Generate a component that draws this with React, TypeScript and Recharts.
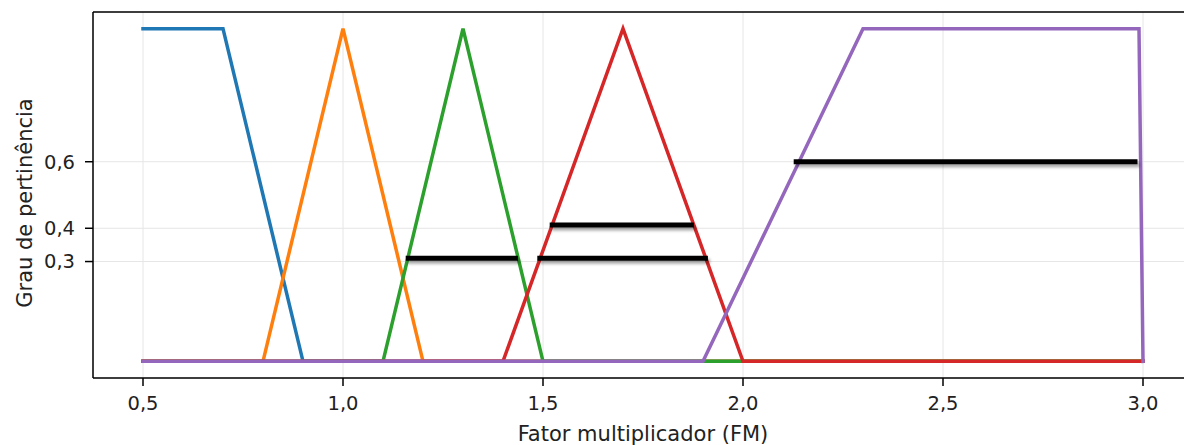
import React from "react";
import { LineChart, Line, XAxis, YAxis, CartesianGrid, ReferenceLine } from "recharts";

// Membership functions (x = fator multiplicador, y = grau de pertinência)
const muitoBaixo = [
  { x: 0.5, y: 1 },
  { x: 0.7, y: 1 },
  { x: 0.9, y: 0 },
  { x: 3.0, y: 0 },
];
const baixo = [
  { x: 0.5, y: 0 },
  { x: 0.8, y: 0 },
  { x: 1.0, y: 1 },
  { x: 1.2, y: 0 },
  { x: 3.0, y: 0 },
];
const medio = [
  { x: 0.5, y: 0 },
  { x: 1.1, y: 0 },
  { x: 1.3, y: 1 },
  { x: 1.5, y: 0 },
  { x: 3.0, y: 0 },
];
const alto = [
  { x: 0.5, y: 0 },
  { x: 1.4, y: 0 },
  { x: 1.7, y: 1 },
  { x: 2.0, y: 0 },
  { x: 3.0, y: 0 },
];
const muitoAlto = [
  { x: 0.5, y: 0 },
  { x: 1.9, y: 0 },
  { x: 2.3, y: 1 },
  { x: 2.99, y: 1 },
  { x: 3.0, y: 0 },
];

// Alpha-cut segments (black)
const corte1 = [
  { x: 1.163, y: 0.31 },
  { x: 1.431, y: 0.31 },
];
const corte2 = [
  { x: 1.523, y: 0.41 },
  { x: 1.871, y: 0.41 },
];
const corte3 = [
  { x: 1.492, y: 0.31 },
  { x: 1.906, y: 0.31 },
];
const corte4 = [
  { x: 2.133, y: 0.6 },
  { x: 2.98, y: 0.6 },
];

const xTicks = [0.5, 1.0, 1.5, 2.0, 2.5, 3.0];
const yTicks = [0.3, 0.4, 0.6];
const xDomain = [0.375, 3.125];
const yDomain = [-0.05, 1.05];

const seriesColors = ["#1f77b4", "#ff7f0e", "#2ca02c", "#d62728", "#9467bd"];
const series = [muitoBaixo, baixo, medio, alto, muitoAlto];
const cortes = [corte1, corte2, corte3, corte4];

const fmt = (v: number) => v.toFixed(1).replace(".", ",");

const FONT = "'DejaVu Sans', sans-serif";
const tickStyle = { fontSize: 19.5, fill: "#222", fontFamily: FONT };

const YLabel = () => (
  <text
    x={32}
    y={203}
    transform="rotate(-90 32 203)"
    textAnchor="middle"
    style={{ fontSize: 21, fill: "#222", fontFamily: FONT }}
  >
    Grau de pertinência
  </text>
);

export default function App() {
  return (
    <div
      style={{
        position: "absolute",
        left: 0,
        top: 0,
        width: 1184,
        height: 445,
        overflow: "hidden",
        background: "#fff",
      }}
    >
      <svg width={0} height={0} style={{ position: "absolute" }}>
        <defs>
          <filter
            id="blkShadow"
            filterUnits="userSpaceOnUse"
            x={0}
            y={0}
            width={1200}
            height={445}
          >
            <feDropShadow
              dx={2}
              dy={3}
              stdDeviation={1.8}
              floodColor="#000"
              floodOpacity={0.35}
            />
          </filter>
        </defs>
      </svg>
      <style>{`.blk-shadow { filter: url(#blkShadow); }`}</style>
      <LineChart
        width={1200}
        height={445}
        margin={{ top: 12, right: 7, bottom: 0, left: 0 }}
      >
        <CartesianGrid stroke="#e6e6e6" strokeWidth={1} />
        <XAxis
          type="number"
          dataKey="x"
          domain={xDomain}
          ticks={xTicks}
          tickFormatter={fmt}
          allowDataOverflow
          height={67}
          tickSize={8}
          tickMargin={10}
          tick={tickStyle}
          stroke="#000"
          strokeWidth={1.5}
          tickLine={{ stroke: "#000", strokeWidth: 1.5 }}
          label={{
            value: "Fator multiplicador (FM)",
            position: "insideBottom",
            offset: 4,
            style: { fontSize: 21, fill: "#222", fontFamily: FONT },
          }}
        />
        <YAxis
          type="number"
          domain={yDomain}
          ticks={yTicks}
          tickFormatter={fmt}
          allowDataOverflow
          width={93}
          tickSize={8}
          tickMargin={10}
          tick={tickStyle}
          stroke="#000"
          strokeWidth={1.5}
          tickLine={{ stroke: "#000", strokeWidth: 1.5 }}
          label={{ content: () => <YLabel /> }}
        />
        <ReferenceLine y={yDomain[1]} stroke="#000" strokeWidth={1.5} />
        <ReferenceLine x={xDomain[1]} stroke="#000" strokeWidth={1.5} />
        {series.map((d, i) => (
          <Line
            key={"s" + i}
            data={d}
            dataKey="y"
            type="linear"
            stroke={seriesColors[i]}
            strokeWidth={3.5}
            dot={false}
            activeDot={false}
            strokeLinecap="square"
            isAnimationActive={false}
          />
        ))}
        {cortes.map((d, i) => (
          <Line
            key={"c" + i}
            className="blk-shadow"
            data={d}
            dataKey="y"
            type="linear"
            stroke="#000"
            strokeWidth={5}
            dot={false}
            activeDot={false}
            strokeLinecap="square"
            isAnimationActive={false}
          />
        ))}
      </LineChart>
    </div>
  );
}
